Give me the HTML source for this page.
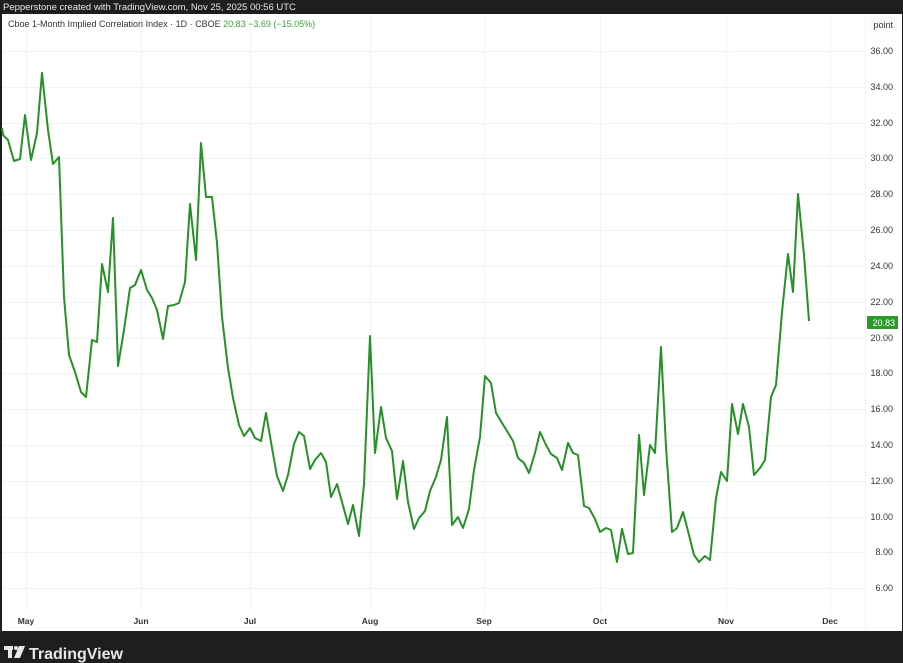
<!DOCTYPE html>
<html><head><meta charset="utf-8"><style>
html,body{margin:0;padding:0;background:#1e1e1e;width:903px;height:663px;overflow:hidden;font-family:"Liberation Sans",sans-serif}
</style></head><body>
<svg width="903" height="663" xmlns="http://www.w3.org/2000/svg" style="position:absolute;left:0;top:0">
<rect x="0" y="0" width="903" height="663" fill="#1e1e1e"/>
<text x="3" y="10" font-size="9.5" fill="#e8e8e8" font-family="Liberation Sans, sans-serif">Pepperstone created with TradingView.com, Nov 25, 2025 00:56 UTC</text>
<rect x="2" y="14" width="900" height="617" fill="#ffffff"/>
<g stroke="#f2f3f5" stroke-width="1">
<line x1="2" x2="865" y1="51.5" y2="51.5"/><line x1="2" x2="865" y1="87.5" y2="87.5"/><line x1="2" x2="865" y1="123.5" y2="123.5"/><line x1="2" x2="865" y1="158.5" y2="158.5"/><line x1="2" x2="865" y1="194.5" y2="194.5"/><line x1="2" x2="865" y1="230.5" y2="230.5"/><line x1="2" x2="865" y1="266.5" y2="266.5"/><line x1="2" x2="865" y1="302.5" y2="302.5"/><line x1="2" x2="865" y1="338.5" y2="338.5"/><line x1="2" x2="865" y1="373.5" y2="373.5"/><line x1="2" x2="865" y1="409.5" y2="409.5"/><line x1="2" x2="865" y1="445.5" y2="445.5"/><line x1="2" x2="865" y1="481.5" y2="481.5"/><line x1="2" x2="865" y1="517.5" y2="517.5"/><line x1="2" x2="865" y1="552.5" y2="552.5"/><line x1="2" x2="865" y1="588.5" y2="588.5"/>
<line x1="26.5" x2="26.5" y1="14" y2="612"/><line x1="141.5" x2="141.5" y1="14" y2="612"/><line x1="250.5" x2="250.5" y1="14" y2="612"/><line x1="370.5" x2="370.5" y1="14" y2="612"/><line x1="484.5" x2="484.5" y1="14" y2="612"/><line x1="600.5" x2="600.5" y1="14" y2="612"/><line x1="726.5" x2="726.5" y1="14" y2="612"/><line x1="830.5" x2="830.5" y1="14" y2="612"/>
<line x1="865.5" x2="865.5" y1="14" y2="631"/>
</g>
<text x="8" y="27" font-size="9" fill="#333">Cboe 1-Month Implied Correlation Index · 1D · CBOE <tspan fill="#3aa63a">20.83  −3.69 (−15.05%)</tspan></text>
<rect x="868" y="17" width="30" height="16" rx="3" fill="#fafafa"/>
<text x="893" y="28" font-size="9" fill="#333" text-anchor="end">point</text>
<g font-size="9" fill="#333" text-anchor="end">
<text x="893" y="54">36.00</text><text x="893" y="90">34.00</text><text x="893" y="126">32.00</text><text x="893" y="161">30.00</text><text x="893" y="197">28.00</text><text x="893" y="233">26.00</text><text x="893" y="269">24.00</text><text x="893" y="305">22.00</text><text x="893" y="341">20.00</text><text x="893" y="376">18.00</text><text x="893" y="412">16.00</text><text x="893" y="448">14.00</text><text x="893" y="484">12.00</text><text x="893" y="520">10.00</text><text x="893" y="555">8.00</text><text x="893" y="591">6.00</text>
</g>
<rect x="867" y="316" width="31" height="13" fill="#2a9a2a"/>
<text x="895" y="326" font-size="9" fill="#fff" text-anchor="end">20.83</text>
<g font-size="8.5" fill="#333" font-weight="bold" text-anchor="middle">
<text x="26" y="624">May</text><text x="141" y="624">Jun</text><text x="250" y="624">Jul</text><text x="370" y="624">Aug</text><text x="484" y="624">Sep</text><text x="600" y="624">Oct</text><text x="726" y="624">Nov</text><text x="830" y="624">Dec</text>
</g>
<polyline fill="none" stroke="#269126" stroke-width="2" stroke-linejoin="round" points="2,128 3,135 8,140 14,161 20,159 25,115 31,160 37,133 42,73 48,130 53,164 59,157 64,297 69,355 75,372 81,392 86,397 92,340 97,342 102,264 108,292 113,218 118,366 124,330 130,288 135,285 141,270 147,290 152,298 157,310 163,339 168,306 174,305 179,303 185,282 190,204 196,260 201,143 206,197 212,197 217,243 222,317 228,368 233,398 239,425 244,436 250,428 255,438 261,441 266,413 272,448 277,476 283,491 288,475 294,444 299,432 304,436 310,469 315,460 321,453 326,462 331,497 337,484 342,502 348,524 353,505 359,536 364,484 370,336 375,453 381,407 386,438 392,451 397,499 403,461 408,502 414,529 419,518 425,511 430,491 436,477 441,460 447,417 452,525 458,517 463,528 469,509 474,470 480,437 485,376 491,383 496,413 502,423 507,431 513,441 518,458 524,463 529,473 535,453 540,432 546,445 551,454 557,458 562,470 568,443 573,453 578,455 584,506 589,508 595,519 600,532 606,528 611,530 617,562 622,529 628,554 633,553 639,435 644,495 650,445 655,453 661,347 666,447 672,532 677,528 683,512 688,531 694,555 699,562 705,556 710,560 716,498 721,472 727,481 732,404 738,434 743,404 749,427 754,475 760,468 765,460 771,397 776,385 782,312 788,254 793,292 798,194 804,255 809,321"/>
<g fill="#e8e8e8">
<rect x="4" y="646" width="9" height="4"/><rect x="8" y="646" width="4" height="12"/>
<circle cx="16" cy="648" r="2"/>
<polygon points="19,646 25,646 20,658 14,658"/>
<text x="29" y="659" font-size="16" font-weight="bold" font-family="Liberation Sans, sans-serif">TradingView</text>
</g>
</svg>
</body></html>
